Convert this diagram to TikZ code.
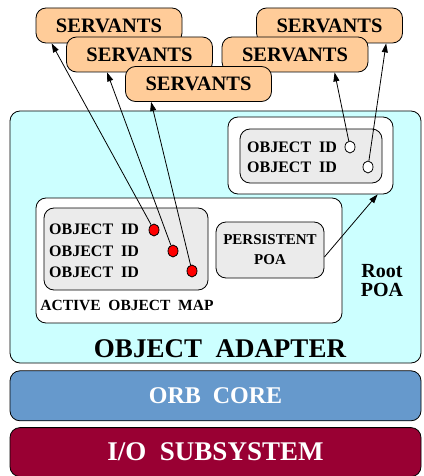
\documentclass[tikz,border=0pt]{standalone}
\usepackage{fontspec}
\setmainfont{Liberation Serif}[WordSpace=2]
\usetikzlibrary{shapes.geometric, arrows.meta, positioning}
\definecolor{servantfill}{HTML}{FFCC99}
\definecolor{adapterfill}{HTML}{CCFFFF}
\definecolor{mapfill}{HTML}{EBEBEB}
\definecolor{orbfill}{HTML}{6699CC}
\definecolor{iofill}{HTML}{990033}

\begin{document}
\begin{tikzpicture}[
    x=1pt, y=-1pt,
    servant/.style={rectangle, rounded corners=10pt, draw=black, fill=servantfill, line width=0.8pt, minimum width=146pt, minimum height=35pt, inner sep=0pt, font=\bfseries\fontsize{20.5}{20}\selectfont},
    layer/.style={rectangle, rounded corners=10pt, draw=black, line width=0.8pt, minimum width=411pt, inner sep=0pt, text=white, font=\bfseries\fontsize{24}{24}\selectfont},
    panel/.style={rectangle, rounded corners=10pt, draw=black, fill=white, line width=0.8pt, inner sep=0pt},
    idbox/.style={rectangle, rounded corners=10pt, draw=black, fill=mapfill, line width=0.8pt, inner sep=0pt},
    idtext/.style={anchor=west, inner sep=0pt, font=\bfseries\fontsize{16}{16}\selectfont},
    slot/.style={ellipse, draw=black, line width=0.8pt, minimum width=10pt, minimum height=12pt, inner sep=0pt},
    arrow/.style={-{Triangle[length=9pt, width=6pt]}, line width=0.8pt}
]
\useasboundingbox (0,0) rectangle (423,476);

% Layers
\node[layer, fill=adapterfill, minimum height=252pt] (adapter) at (215.5,237) {};
\node[layer, fill=orbfill, minimum height=50pt, below=7pt of adapter] (orb) {ORB CORE};
\node[layer, fill=iofill, minimum height=49pt, below=6pt of orb, font=\bfseries\fontsize{27}{27}\selectfont] (io) {I/O SUBSYSTEM};
\node[font=\bfseries\fontsize{27}{27}\selectfont, inner sep=0pt] (adapterlabel) at (220,349) {OBJECT ADAPTER};

% Servants
\node[servant] (s1) at (109,25.5) {SERVANTS};
\node[servant] (s4) at (329.5,25.5) {SERVANTS};
\node[servant] (s2) at (139.5,54.5) {SERVANTS};
\node[servant] (s5) at (295,54.5) {SERVANTS};
\node[servant] (s3) at (198.5,84) {SERVANTS};

% Child POA
\node[panel, minimum width=165pt, minimum height=77pt] (childpoa) at (310.5,155.5) {};
\node[idbox, minimum width=142pt, minimum height=54pt] (childmap) at (311,156) {};
\node[idtext] (cid1) at (247,147) {OBJECT ID};
\node[idtext] (cid2) at (247,167) {OBJECT ID};
\node[slot, fill=white] (c1) at (350,147) {};
\node[slot, fill=white] (c2) at (368,167) {};

% Root POA
\node[panel, minimum width=306pt, minimum height=125pt] (rootpoa) at (189,260.5) {};
\node[idbox, minimum width=164pt, minimum height=82pt] (activemap) at (126,249) {};
\node[idtext] (aid1) at (49,229) {OBJECT ID};
\node[idtext] (aid2) at (49,251) {OBJECT ID};
\node[idtext] (aid3) at (49,272) {OBJECT ID};
\node[slot, fill=red] (r1) at (154,230) {};
\node[slot, fill=red] (r2) at (173,251) {};
\node[slot, fill=red] (r3) at (192,271) {};
\node[inner sep=0pt, font=\bfseries\fontsize{15.5}{15}\selectfont] (maplabel) at (127,305) {ACTIVE OBJECT MAP};
\node[idbox, minimum width=108pt, minimum height=56pt, align=center, font=\bfseries\fontsize{15}{20}\selectfont] (persistent) at (270,250) {PERSISTENT\\POA};
\node[inner sep=0pt, align=center, font=\bfseries\fontsize{20}{19}\selectfont] (rootlabel) at (382,281) {Root\\POA};

% Arrows
\draw[arrow] (r1) -- ([xshift=16pt]s1.south west);
\draw[arrow] (r2) -- ([xshift=41pt]s2.south west);
\draw[arrow] (r3) -- ([xshift=26pt]s3.south west);
\draw[arrow] (c1) -- ([xshift=113pt]s5.south west);
\draw[arrow] (c2) -- ([xshift=130pt]s4.south west);
\draw[arrow] ([yshift=-7pt]persistent.east) -- ([xshift=150pt]childpoa.south west);

\end{tikzpicture}
\end{document}
